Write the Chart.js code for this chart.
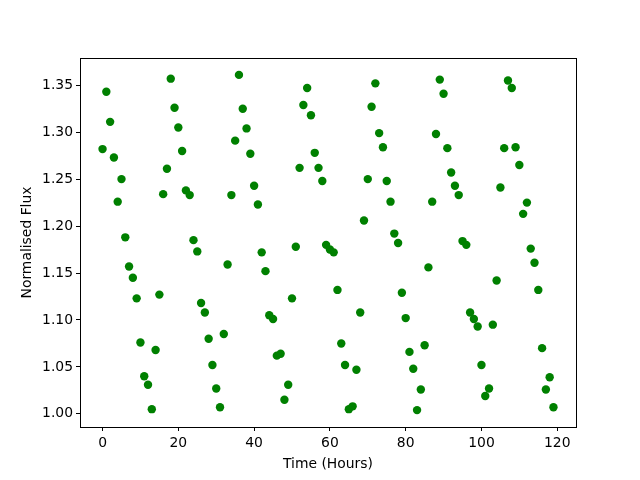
<!DOCTYPE html>
<html>
<head>
<meta charset="utf-8">
<script src="https://cdn.jsdelivr.net/npm/chart.js@4/dist/chart.umd.min.js"></script>
<style>
  html, body { margin: 0; padding: 0; background: #fff; }
  canvas { display: block; }
</style>
</head>
<body>
<canvas id="chart" width="640" height="480"></canvas>
<script>
// hourly samples, hour 0..119
const hours = [];
for (let h = 0; h < 120; h++) hours.push(h);

const flux = [
  1.282, 1.343, 1.311, 1.273, 1.226, 1.250, 1.188, 1.157, 1.145, 1.123,
  1.076, 1.040, 1.031, 1.005, 1.068, 1.127, 1.234, 1.261, 1.357, 1.326,
  1.305, 1.280, 1.238, 1.233, 1.185, 1.173, 1.118, 1.108, 1.080, 1.052,
  1.027, 1.007, 1.085, 1.159, 1.233, 1.291, 1.361, 1.325, 1.304, 1.277,
  1.243, 1.223, 1.172, 1.152, 1.105, 1.101, 1.062, 1.064, 1.015, 1.031,
  1.123, 1.178, 1.262, 1.329, 1.347, 1.318, 1.278, 1.262, 1.248, 1.180,
  1.175, 1.172, 1.132, 1.075, 1.052, 1.005, 1.008, 1.047, 1.108, 1.206,
  1.250, 1.327, 1.352, 1.299, 1.284, 1.248, 1.226, 1.192, 1.182, 1.129,
  1.102, 1.066, 1.048, 1.004, 1.026, 1.073, 1.156, 1.226, 1.298, 1.356,
  1.341, 1.283, 1.257, 1.243, 1.233, 1.184, 1.180, 1.108, 1.101, 1.093,
  1.052, 1.019, 1.027, 1.095, 1.142, 1.241, 1.283, 1.355, 1.347, 1.284,
  1.265, 1.213, 1.225, 1.176, 1.161, 1.132, 1.070, 1.026, 1.039, 1.007
];

const xTicks = [0, 20, 40, 60, 80, 100, 120];
const yTicks = [1.00, 1.05, 1.10, 1.15, 1.20, 1.25, 1.30, 1.35];

const X_MIN = -5.95, X_MAX = 124.95;
const Y_MIN = 0.986, Y_MAX = 1.379;

const font = { family: 'DejaVu Sans', size: 13.9, lineHeight: 1.2 };

// matplotlib-like box around the plot area
const frame = {
  id: 'frame',
  afterDraw(chart) {
    const { ctx, chartArea: a } = chart;
    ctx.save();
    ctx.strokeStyle = '#000';
    ctx.lineWidth = 1;
    ctx.strokeRect(Math.round(a.left) + 0.5, Math.round(a.top) + 0.5,
      Math.round(a.right - a.left), Math.round(a.bottom - a.top));
    ctx.restore();
  }
};

new Chart(document.getElementById('chart'), {
  type: 'scatter',
  data: {
    datasets: [{
      label: 'flux',
      data: hours.map((h, i) => ({ x: h, y: flux[i] })),
      backgroundColor: '#008000',
      borderWidth: 0,
      pointRadius: 4.2,
      pointHoverRadius: 4.2
    }]
  },
  options: {
    responsive: false,
    animation: false,
    layout: { padding: { top: 58, right: 64, left: 0, bottom: 0 } },
    plugins: { legend: { display: false }, tooltip: { enabled: false } },
    scales: {
      x: {
        type: 'linear',
        min: X_MIN, max: X_MAX,
        afterBuildTicks: (s) => { s.ticks = xTicks.map(v => ({ value: v })); },
        afterFit: (s) => { s.height = 53; },
        grid: { drawOnChartArea: false, drawTicks: true, tickLength: 4, color: '#000' },
        border: { display: true, color: '#000' },
        ticks: { color: '#000', font, padding: 4, maxRotation: 0, autoSkip: false },
        title: { display: true, text: 'Time (Hours)', color: '#000', font, padding: { top: 0, bottom: 7 } }
      },
      y: {
        type: 'linear',
        min: Y_MIN, max: Y_MAX,
        afterBuildTicks: (s) => { s.ticks = yTicks.map(v => ({ value: v })); },
        afterFit: (s) => { s.width = 80; },
        grid: { drawOnChartArea: false, drawTicks: true, tickLength: 4, color: '#000' },
        border: { display: true, color: '#000' },
        ticks: { color: '#000', font, padding: 3, autoSkip: false, callback: (v) => Number(v).toFixed(2) },
        title: { display: true, text: 'Normalised Flux', color: '#000', font, padding: { top: 19, bottom: 0 } }
      }
    }
  },
  plugins: [frame]
});
</script>
</body>
</html>
